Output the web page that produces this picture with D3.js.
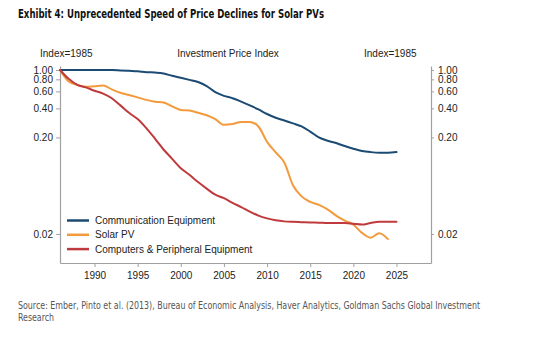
<!DOCTYPE html>
<html>
<head>
<meta charset="utf-8">
<script src="https://cdn.jsdelivr.net/npm/d3@7"></script>
<style>
  html, body { margin: 0; padding: 0; background: #fff; }
  svg { display: block; }
</style>
</head>
<body>
<svg id="chart" width="560" height="358"></svg>
<script>
const years = d3.range(1986, 2026);
const commEquip = [1.00, 1.00, 1.00, 1.00, 1.00, 1.00, 1.00, 0.99, 0.98, 0.97,
  0.95, 0.94, 0.92, 0.87, 0.83, 0.79, 0.75, 0.68, 0.59, 0.54,
  0.51, 0.47, 0.43, 0.39, 0.35, 0.32, 0.30, 0.28, 0.26, 0.23,
  0.20, 0.185, 0.175, 0.163, 0.153, 0.145, 0.141, 0.139, 0.139, 0.141];
const solarPV = [1.00, 0.76, 0.70, 0.67, 0.68, 0.69, 0.63, 0.58, 0.55, 0.52,
  0.49, 0.47, 0.46, 0.42, 0.385, 0.38, 0.36, 0.34, 0.31, 0.27,
  0.275, 0.29, 0.29, 0.26, 0.18, 0.14, 0.11, 0.064, 0.049, 0.043,
  0.040, 0.036, 0.031, 0.0275, 0.025, 0.0205, 0.0183, 0.0203, 0.0177];
const computers = [1.00, 0.81, 0.70, 0.66, 0.61, 0.57, 0.51, 0.43, 0.36, 0.31,
  0.25, 0.195, 0.15, 0.12, 0.096, 0.082, 0.069, 0.059, 0.051, 0.047,
  0.042, 0.038, 0.034, 0.031, 0.029, 0.0277, 0.027, 0.0267, 0.0265, 0.0263,
  0.0262, 0.026, 0.026, 0.026, 0.0255, 0.025, 0.026, 0.0268, 0.0268, 0.0268];
const seriesNames = ["Communication Equipment", "Solar PV", "Computers & Peripheral Equipment"];
const yTicks = [1.00, 0.80, 0.60, 0.40, 0.20, 0.02];
const xTicks = [1990, 1995, 2000, 2005, 2010, 2015, 2020, 2025];

const colors = ["#1b4a73", "#f39a3c", "#bf3a3c"];
const seriesValues = [commEquip, solarPV, computers];

const svg = d3.select("#chart");
const x = d3.scaleLinear().domain([1986, 2029]).range([60, 431]);
const y = d3.scaleLog().domain([0.01, 1.1]).range([263, 66]);

const font = "'Liberation Sans', Arial, sans-serif";
const axisColor = "#a0a0a0";

// Title
svg.append("text").attr("x", 18).attr("y", 17.5)
  .attr("font-family", "'Liberation Sans Narrow', 'DejaVu Sans Condensed', sans-serif")
  .attr("font-weight", "bold").attr("font-size", 11.5).attr("fill", "#111")
  .attr("textLength", 306).attr("lengthAdjust", "spacingAndGlyphs")
  .text("Exhibit 4: Unprecedented Speed of Price Declines for Solar PVs");

// Header labels
const hdr = svg.append("g").attr("font-family", font).attr("font-size", 10).attr("fill", "#222");
hdr.append("text").attr("x", 40).attr("y", 57).text("Index=1985");
hdr.append("text").attr("x", 228).attr("y", 57).attr("text-anchor", "middle").text("Investment Price Index");
hdr.append("text").attr("x", 364).attr("y", 57).text("Index=1985");

function styleAxis(g) {
  g.selectAll("path, line").attr("stroke", axisColor);
  g.selectAll("path").attr("stroke-width", 1.2);
  g.selectAll("text").attr("font-family", font).attr("font-size", 10).attr("fill", "#222");
}

const fmt = d3.format(".2f");
const gl = svg.append("g").attr("transform", `translate(${x(1986)},0)`)
  .call(d3.axisLeft(y).tickValues(yTicks).tickFormat(fmt).tickSize(4).tickPadding(3).tickSizeOuter(0));
styleAxis(gl);
const gr = svg.append("g").attr("transform", `translate(${x(2029)},0)`)
  .call(d3.axisRight(y).tickValues(yTicks).tickFormat(fmt).tickSize(3).tickPadding(4).tickSizeOuter(0));
styleAxis(gr);
const gb = svg.append("g").attr("transform", `translate(0,${y(0.01)})`)
  .call(d3.axisBottom(x).tickValues(xTicks).tickFormat(d3.format("d")).tickSize(4).tickPadding(5).tickSizeOuter(0));
styleAxis(gb);

// Lines
const line = d3.line().x((d, i) => x(years[i])).y(d => y(d)).curve(d3.curveMonotoneX);
seriesValues.forEach((vals, k) => {
  svg.append("path").datum(vals)
    .attr("fill", "none").attr("stroke", colors[k]).attr("stroke-width", 2)
    .attr("stroke-linejoin", "round").attr("stroke-linecap", "round")
    .attr("d", line);
});

// Legend
const lg = svg.append("g").attr("font-family", font).attr("font-size", 10).attr("fill", "#222");
seriesNames.forEach((name, k) => {
  const yy = 220.5 + k * 14.3;
  lg.append("line").attr("x1", 67).attr("x2", 89).attr("y1", yy).attr("y2", yy)
    .attr("stroke", colors[k]).attr("stroke-width", 2.5);
  lg.append("text").attr("x", 95).attr("y", yy + 3.5).text(name);
});

// Source
const src = svg.append("g")
  .attr("font-family", "'Liberation Sans Narrow', 'DejaVu Sans Condensed', sans-serif")
  .attr("font-size", 10).attr("fill", "#555");
src.append("text").attr("x", 18).attr("y", 309)
  .attr("textLength", 462).attr("lengthAdjust", "spacingAndGlyphs")
  .text("Source: Ember, Pinto et al. (2013), Bureau of Economic Analysis, Haver Analytics, Goldman Sachs Global Investment");
src.append("text").attr("x", 18).attr("y", 321)
  .attr("textLength", 36).attr("lengthAdjust", "spacingAndGlyphs")
  .text("Research");
</script>
</body>
</html>
